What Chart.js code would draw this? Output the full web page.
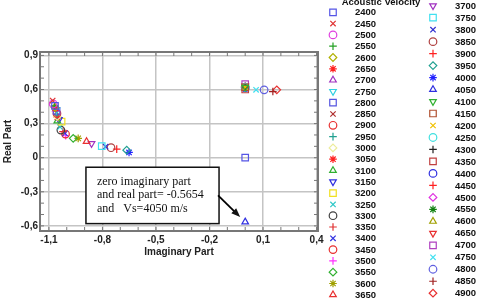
<!DOCTYPE html>
<html>
<head>
<meta charset="utf-8">
<script src="https://cdn.jsdelivr.net/npm/chart.js@4.4.0/dist/chart.umd.min.js"></script>
<style>
  html, body { margin: 0; padding: 0; background: #fff; }
  #wrap { width: 482px; height: 301px; position: relative; }
</style>
</head>
<body>
<div id="wrap"><canvas id="chart"></canvas></div>
<script>
// acoustic velocities (m/s), one series each
const velocities = [
    2400, 2450, 2500, 2550, 2600, 2650, 2700, 2750, 2800, 2850, 2900, 2950, 3000,
    3050, 3100, 3150, 3200, 3250, 3300, 3350, 3400, 3450, 3500, 3550, 3600, 3650,
    3700, 3750, 3800, 3850, 3900, 3950, 4000, 4050, 4100, 4150, 4200, 4250, 4300,
    4350, 4400, 4450, 4500, 4550, 4600, 4650, 4700, 4750, 4800, 4850, 4900
];
// imaginary part (x)
const imagPart = [
    -1.066, -1.079, -1.076, -1.069, -1.066, -1.064, -1.061, -1.058, -1.057, -1.058, -1.055, -1.055, -1.053,
    -1.053, -1.053, -1.044, -1.029, -1.038, -1.033, -1.021, -1.010, -1.007, -1.006, -0.964, -0.936, -0.889,
    -0.861, -0.804, -0.782, -0.752, -0.720, -0.664, -0.651, 0, 0, 0, 0, 0, 0,
    0, 0, 0, 0, 0, 0, 0, 0, 0.061, 0.106, 0.155, 0.177
];
// real part (y)
const realPart = [
    0.456, 0.503, 0.473, 0.456, 0.442, 0.434, 0.429, 0.420, 0.412, 0.398, 0.389, 0.376, 0.363,
    0.356, 0.323, 0.336, 0.317, 0.270, 0.243, 0.230, 0.214, 0.208, 0.193, 0.170, 0.170, 0.142,
    0.124, 0.102, 0.097, 0.088, 0.075, 0.066, 0.046, -0.5654, 0.620, 0.620, 0.620, 0.620, 0.620,
    0.600, 0.615, 0.620, 0.625, 0.620, 0.625, 0.630, 0.648, 0.597, 0.597, 0.582, 0.597
];
// second root that shows up at the origin
const extraVelocity = [2400];
const extraImag = [0];
const extraReal = [0];

const xTickLabels = [-1.1, -0.8, -0.5, -0.2, 0.1, 0.4];
const yTickLabels = [-0.6, -0.3, 0, 0.3, 0.6, 0.9];
const noteLines = ['zero imaginary part', 'and real part= -0.5654', 'and   Vs=4050 m/s'];
const noteVelocity = 4050;

// styles
const markers = [
    's', 'x', 'o', '+', 'd', '*', '^', 'v', 's', 'x', 'o', '+', 'd',
    '*', '^', 'v', 's', 'x', 'o', '+', 'x', 'o', '+', 'd', '*', '^',
    'v', 's', 'x', 'o', '+', 'd', '*', '^', 'v', 's', 'x', 'o', '+',
    's', 'o', '+', 'd', '*', '^', 'v', 's', 'x', 'o', '+', 'd'
];
const colors = [
    '#5555e6', '#e03333', '#e040e0', '#22a022', '#b0b000', '#ff2020', '#a030c0', '#30d0e0', '#5555e0', '#b03030', '#e83030', '#20a090', '#ecec9a',
    '#ff2020', '#30b030', '#3030e0', '#f0e020', '#30c8c8', '#404040', '#e03030', '#3030e0', '#e83030', '#ff30ff', '#30b030', '#a0a000', '#e83030',
    '#a030c0', '#40e0f0', '#3030d0', '#b04040', '#ff2020', '#20a090', '#2020ff', '#3030e0', '#30b030', '#b05030', '#f0c000', '#40e0e0', '#202020',
    '#c04040', '#3030e0', '#ff2020', '#e030e0', '#108010', '#a0a000', '#e83030', '#b040c0', '#40e0f0', '#6060e0', '#a02020', '#e83030'
];
const styleOf = {
    s: { pointStyle: 'rect', rotation: 0 },
    x: { pointStyle: 'crossRot', rotation: 0 },
    o: { pointStyle: 'circle', rotation: 0 },
    '+': { pointStyle: 'cross', rotation: 0 },
    d: { pointStyle: 'rectRot', rotation: 0 },
    '*': { pointStyle: 'star', rotation: 0 },
    '^': { pointStyle: 'triangle', rotation: 0 },
    v: { pointStyle: 'triangle', rotation: 180 }
};
const POINT_R = 3.8;
const BOX_COLOR = '#777';

function fmt(v) {
    if (Math.abs(v) < 1e-9) return '0';
    return v.toFixed(1).replace('.', ',');
}
function isMajor(v, list) {
    return list.some(t => Math.abs(t - v) < 1e-6);
}
function stepTicks(from, to) {
    const out = [];
    for (let k = Math.round(from * 10); k <= Math.round(to * 10); k++) out.push({ value: k / 10 });
    return out;
}

const datasets = velocities.map((vel, i) => {
    const pts = [{ x: imagPart[i], y: realPart[i] }];
    extraVelocity.forEach((ev, j) => {
        if (ev === vel) pts.push({ x: extraImag[j], y: extraReal[j] });
    });
    const st = styleOf[markers[i]];
    return {
        label: String(vel),
        data: pts,
        pointStyle: st.pointStyle,
        rotation: st.rotation,
        radius: st.pointStyle === 'rect' ? POINT_R + 0.8 : POINT_R,
        borderWidth: 1.2,
        borderColor: colors[i],
        backgroundColor: 'rgba(0,0,0,0)'
    };
});

// frame, inner tick marks, note box, legend
const decorPlugin = {
    id: 'decor',
    beforeDatasetsDraw(chart) {
        const { ctx, chartArea: a, scales: { x, y } } = chart;
        ctx.save();
        ctx.strokeStyle = BOX_COLOR;
        ctx.lineWidth = 1;
        x.ticks.forEach(t => {
            const px = x.getPixelForValue(t.value);
            ctx.beginPath();
            ctx.moveTo(px, a.top); ctx.lineTo(px, a.top + 4);
            ctx.moveTo(px, a.bottom); ctx.lineTo(px, a.bottom - 4);
            ctx.stroke();
        });
        y.ticks.forEach(t => {
            const py = y.getPixelForValue(t.value);
            ctx.beginPath();
            ctx.moveTo(a.left, py); ctx.lineTo(a.left + 4, py);
            ctx.moveTo(a.right, py); ctx.lineTo(a.right - 4, py);
            ctx.stroke();
        });
        ctx.lineWidth = 2;
        ctx.strokeRect(a.left, a.top, a.right - a.left, a.bottom - a.top);
        ctx.restore();
    },
    afterDraw(chart) {
        const { ctx, scales: { x, y } } = chart;
        ctx.save();

        // note box
        const bx0 = x.getPixelForValue(-0.8925), bx1 = x.getPixelForValue(-0.1466);
        const by0 = y.getPixelForValue(-0.084), by1 = y.getPixelForValue(-0.58);
        ctx.fillStyle = '#fff';
        ctx.fillRect(bx0, by0, bx1 - bx0, by1 - by0);
        ctx.strokeStyle = '#111';
        ctx.lineWidth = 1.5;
        ctx.strokeRect(bx0, by0, bx1 - bx0, by1 - by0);
        ctx.fillStyle = '#111';
        ctx.font = '12px "Liberation Serif", "Times New Roman", serif';
        ctx.textBaseline = 'middle';
        ctx.textAlign = 'left';
        noteLines.forEach((line, k) => ctx.fillText(line, bx0 + 11, by0 + 14.5 + k * 13.6));

        // arrow to the 4050 root
        const ni = velocities.indexOf(noteVelocity);
        const tipX = x.getPixelForValue(imagPart[ni]) - 5;
        const tipY = y.getPixelForValue(realPart[ni]) - 5;
        const tailX = bx1 - 1, tailY = y.getPixelForValue(-0.332);
        const ang = Math.atan2(tipY - tailY, tipX - tailX);
        ctx.strokeStyle = '#000';
        ctx.lineWidth = 1.8;
        ctx.beginPath();
        ctx.moveTo(tailX, tailY);
        ctx.lineTo(tipX - 6 * Math.cos(ang), tipY - 6 * Math.sin(ang));
        ctx.stroke();
        ctx.beginPath();
        ctx.moveTo(tipX, tipY);
        ctx.lineTo(tipX - 9 * Math.cos(ang) + 3.5 * Math.sin(ang), tipY - 9 * Math.sin(ang) - 3.5 * Math.cos(ang));
        ctx.lineTo(tipX - 9 * Math.cos(ang) - 3.5 * Math.sin(ang), tipY - 9 * Math.sin(ang) + 3.5 * Math.cos(ang));
        ctx.closePath();
        ctx.fill();

        // legend, two columns
        ctx.font = 'bold 9.5px "Liberation Sans", Arial, sans-serif';
        ctx.fillStyle = '#111';
        ctx.textAlign = 'center';
        ctx.textBaseline = 'alphabetic';
        ctx.fillText('Acoustic Velocity', 381, 4.5);
        ctx.textAlign = 'left';
        ctx.textBaseline = 'middle';
        const split = velocities.indexOf(3700);
        chart.data.datasets.forEach((ds, i) => {
            const left = i < split;
            const mx = left ? 333 : 433;
            const my = left ? 12.3 + i * 11.3 : 5.7 + (i - split) * 11.98;
            ctx.strokeStyle = ds.borderColor;
            ctx.fillStyle = 'rgba(0,0,0,0)';
            ctx.lineWidth = 1.2;
            Chart.helpers.drawPoint(ctx, {
                pointStyle: ds.pointStyle, rotation: ds.rotation, radius: ds.radius, borderWidth: 1.2
            }, mx, my);
            ctx.fillStyle = '#111';
            ctx.fillText(ds.label, mx + 22, my + 0.5);
        });
        ctx.restore();
    }
};

const tickFont = { family: '"Liberation Sans", Arial, sans-serif', size: 10, weight: 'bold' };

new Chart(document.getElementById('chart'), {
    type: 'scatter',
    data: { datasets },
    options: {
        responsive: true,
        maintainAspectRatio: false,
        animation: false,
        devicePixelRatio: 1,
        layout: { padding: { left: 0, top: 52, right: 164, bottom: 39 } },
        plugins: { legend: { display: false }, tooltip: { enabled: false } },
        scales: {
            x: {
                type: 'linear',
                min: -1.15,
                max: 0.408,
                afterBuildTicks: s => { s.ticks = stepTicks(-1.1, 0.4); },
                afterFit: s => { s.height = 31; },
                ticks: {
                    autoSkip: false, maxRotation: 0, padding: 3, color: '#222', font: tickFont,
                    callback: v => isMajor(v, xTickLabels) ? fmt(v) : ''
                },
                grid: {
                    drawTicks: false,
                    lineWidth: 1.5,
                    color: c => c.tick && isMajor(c.tick.value, xTickLabels) ? '#c4c4c4' : 'rgba(0,0,0,0)'
                },
                border: { display: false },
                title: { display: true, text: 'Imaginary Part', color: '#222', font: tickFont, padding: { top: 0, bottom: 4 } }
            },
            y: {
                type: 'linear',
                min: -0.645,
                max: 0.93,
                afterBuildTicks: s => { s.ticks = stepTicks(-0.6, 0.9); },
                afterFit: s => { s.width = 40; },
                ticks: {
                    autoSkip: false, padding: 2, color: '#222', font: tickFont,
                    callback: v => isMajor(v, yTickLabels) ? fmt(v) : ''
                },
                grid: {
                    drawTicks: false,
                    lineWidth: 1.5,
                    color: c => c.tick && isMajor(c.tick.value, yTickLabels) ? '#c4c4c4' : 'rgba(0,0,0,0)'
                },
                border: { display: false },
                title: { display: true, text: 'Real Part', color: '#222', font: tickFont, padding: { top: 2, bottom: 0 } }
            }
        }
    },
    plugins: [decorPlugin]
});
</script>
</body>
</html>
